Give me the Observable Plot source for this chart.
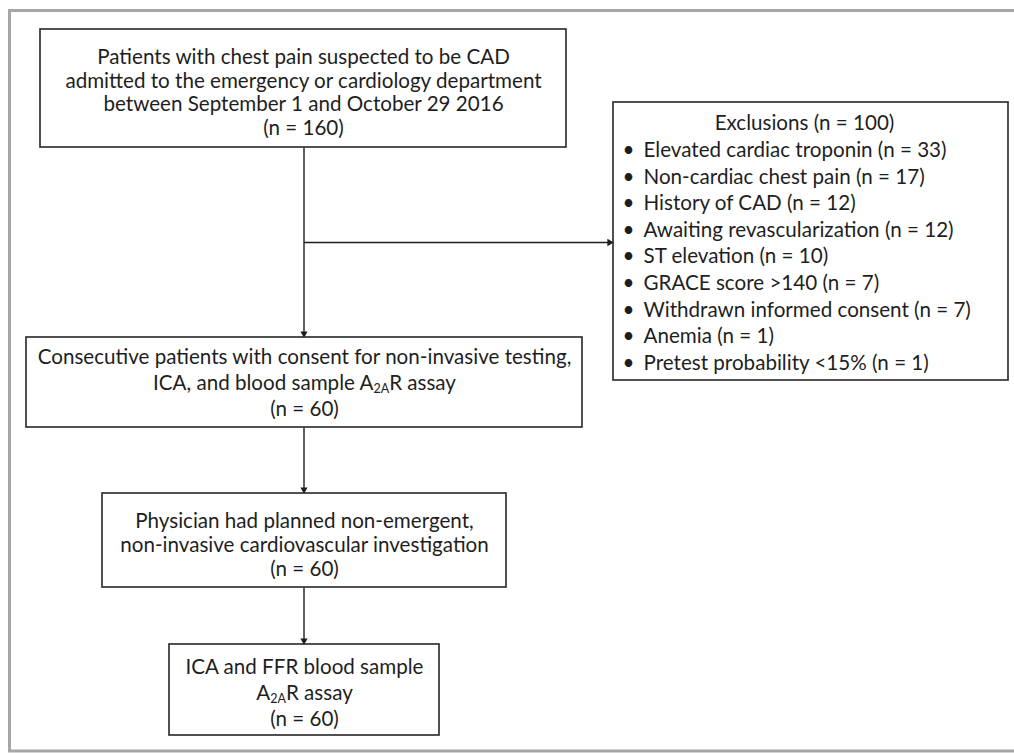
<!DOCTYPE html>
<html><head><meta charset="utf-8">
<script src="https://cdn.jsdelivr.net/npm/d3@7"></script>
<script src="https://cdn.jsdelivr.net/npm/@observablehq/plot@0.6"></script>
<style>body{margin:0;background:#fff} svg{display:block}</style>
</head><body><div id="chart"></div>
<script>
// ---- data ----
const stageLines = [
  ["Patients with chest pain suspected to be CAD",
   "admitted to the emergency or cardiology department",
   "between September 1 and October 29 2016"],
  ["Consecutive patients with consent for non-invasive testing,",
   "ICA, and blood sample A{2A}R assay"],
  ["Physician had planned non-emergent,",
   "non-invasive cardiovascular investigation"],
  ["ICA and FFR blood sample",
   "A{2A}R assay"]
];
const stageCounts = [160, 60, 60, 60];
const exclusionTitle = "Exclusions";
const exclusionTotal = 100;
const exclusionReasons = [
  "Elevated cardiac troponin",
  "Non-cardiac chest pain",
  "History of CAD",
  "Awaiting revascularization",
  "ST elevation",
  "GRACE score >140",
  "Withdrawn informed consent",
  "Anemia",
  "Pretest probability <15%"
];
const exclusionCounts = [33, 17, 12, 12, 10, 7, 7, 1, 1];

// ---- layout ----
const W = 1014, H = 753;
const frame = [{x1: 9.5, x2: 1030, y1: 10.5, y2: 751}];
const stageBoxes = [
  {x1: 40,  x2: 566, y1: 29,  y2: 147, first: 57,  lh: 23.5},
  {x1: 26,  x2: 582, y1: 337, y2: 427, first: 356.5, lh: 26},
  {x1: 102, x2: 506, y1: 493, y2: 587, first: 521, lh: 24},
  {x1: 169, x2: 439, y1: 644, y2: 735, first: 666.5, lh: 26}
];
const exclBox = {x1: 613, x2: 1008, y1: 102, y2: 380, titleY: 123, titleX: 804, first: 150, lh: 26.6, bulletX: 628, textX: 643};
const stemX = 303.5, branchY = 242;

const stageText = stageBoxes.flatMap((b, i) =>
  [...stageLines[i], `(n = ${stageCounts[i]})`].map((t, j) => ({text: t, x: (b.x1 + b.x2) / 2, y: b.first + j * b.lh})));
const exclText = exclusionReasons.map((r, i) => ({text: `${r} (n = ${exclusionCounts[i]})`, y: exclBox.first + i * exclBox.lh}));

const connectors = [
  {x1: stemX, y1: stageBoxes[0].y2, x2: stemX, y2: stageBoxes[1].y1},
  {x1: stemX, y1: branchY, x2: exclBox.x1, y2: branchY},
  {x1: stemX, y1: stageBoxes[1].y2, x2: stemX, y2: stageBoxes[2].y1},
  {x1: stemX, y1: stageBoxes[2].y2, x2: stemX, y2: stageBoxes[3].y1}
];
const headOff = 4;
const heads = connectors.map(c => c.y1 === c.y2
  ? {x: c.x2 - headOff, y: c.y2, rot: 90}
  : {x: c.x2, y: c.y2 - headOff, rot: 180});

const fontSize = 20.6;
const ink = "#1e1e1e";

const chart = Plot.plot({
  width: W, height: H, margin: 0,
  x: {domain: [0, W], range: [0, W], axis: null},
  y: {domain: [0, H], range: [0, H], axis: null},
  style: {fontFamily: "Lato, 'Open Sans', sans-serif", background: "white"},
  marks: [
    Plot.rect(frame, {x1: "x1", x2: "x2", y1: "y1", y2: "y2", fill: "none", stroke: "#a6a6a6", strokeWidth: 3}),
    Plot.link(connectors, {x1: "x1", y1: "y1", x2: "x2", y2: "y2", stroke: ink, strokeWidth: 1.4}),
    Plot.dot(heads, {x: "x", y: "y", rotate: "rot", symbol: "triangle", r: 2.7, fill: ink, stroke: null}),
    Plot.rect(stageBoxes, {x1: "x1", x2: "x2", y1: "y1", y2: "y2", fill: "none", stroke: "#333", strokeWidth: 1.7}),
    Plot.rect([exclBox], {x1: "x1", x2: "x2", y1: "y1", y2: "y2", fill: "none", stroke: "#333", strokeWidth: 1.7}),
    Plot.text(stageText, {x: "x", y: "y", text: "text", fontSize, fill: ink}),
    Plot.text([{text: `${exclusionTitle} (n = ${exclusionTotal})`}], {x: () => exclBox.titleX, y: () => exclBox.titleY, text: "text", fontSize, fill: ink}),
    Plot.text(exclText, {x: () => exclBox.bulletX, y: "y", text: () => "•", fontSize, fill: ink}),
    Plot.text(exclText, {x: () => exclBox.textX, y: "y", text: "text", textAnchor: "start", fontSize, fill: ink})
  ]
});

// subscript A2A
chart.querySelectorAll("text").forEach(t => {
  const s = t.textContent;
  if (s.includes("{2A}")) {
    const [a, b] = s.split("{2A}");
    t.textContent = "";
    const ns = "http://www.w3.org/2000/svg";
    const t1 = document.createElementNS(ns, "tspan"); t1.textContent = a;
    const t2 = document.createElementNS(ns, "tspan"); t2.textContent = "2A";
    t2.setAttribute("dy", "3"); t2.setAttribute("font-size", "12.5");
    const t3 = document.createElementNS(ns, "tspan"); t3.textContent = b;
    t3.setAttribute("dy", "-3");
    t.append(t1, t2, t3);
  }
});
document.getElementById("chart").append(chart);
</script>
</body></html>
